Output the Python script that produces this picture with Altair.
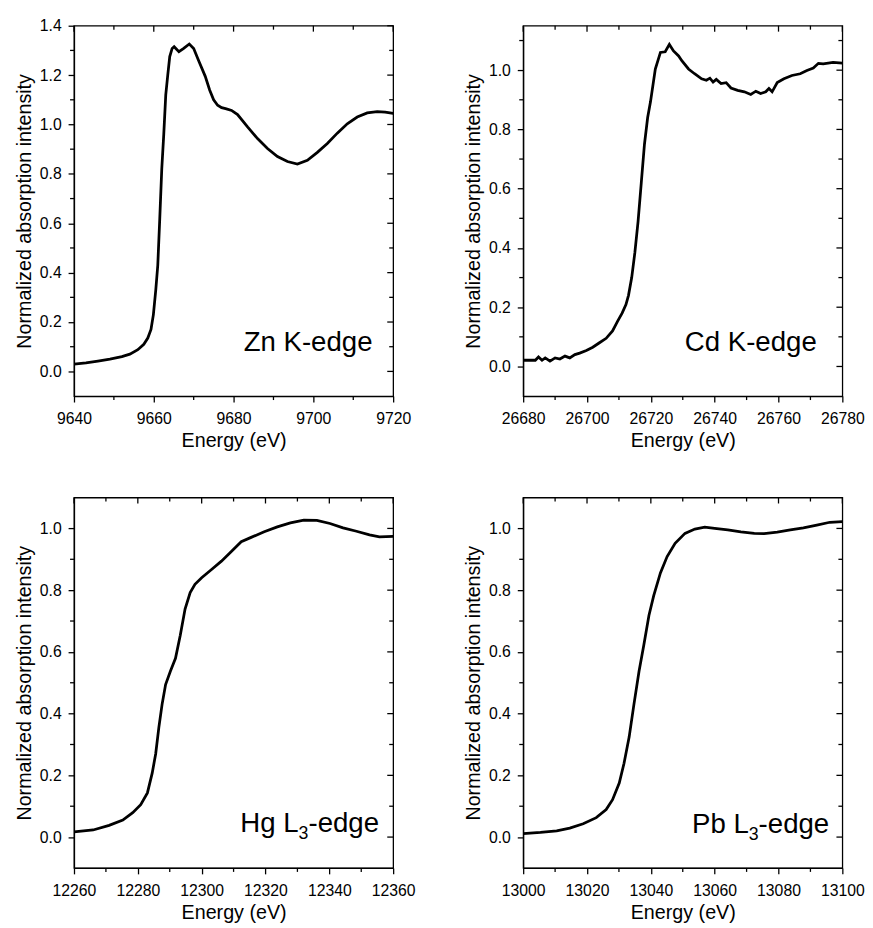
import altair as alt
import pandas as pd

# ---------------- data ----------------
zn_E = [9640, 9643, 9646, 9649, 9652, 9654, 9656, 9657.5, 9658.5, 9659.3, 9659.9,
        9660.5, 9661, 9661.5, 9662, 9662.5, 9663, 9663.5, 9664, 9664.6, 9665.1,
        9666.3, 9667.5, 9668.9, 9670, 9671.2, 9672.9, 9674, 9675,
        9676, 9677, 9678, 9679.5, 9681, 9683.5, 9686, 9688.5, 9691, 9693.5, 9696,
        9698.5, 9701, 9703.5, 9706, 9708.5, 9711, 9713.5, 9716, 9718, 9720]
zn_V = [0.030, 0.035, 0.042, 0.050, 0.060, 0.070, 0.088, 0.110, 0.135, 0.170, 0.230,
        0.330, 0.430, 0.620, 0.820, 0.960, 1.120, 1.200, 1.275, 1.308, 1.315,
        1.295, 1.308, 1.326, 1.308, 1.260, 1.195, 1.140, 1.100,
        1.078, 1.068, 1.064, 1.057, 1.040, 0.990, 0.943, 0.903, 0.870, 0.850, 0.840,
        0.855, 0.887, 0.923, 0.965, 1.003, 1.030, 1.047, 1.052, 1.050, 1.045]

cd_E = [26680, 26682, 26683.8, 26684.8, 26685.9, 26686.9, 26688.4, 26690, 26691.5,
        26693.1, 26694.6, 26696.2, 26697.7, 26699.8, 26701.8, 26703.9, 26706, 26708,
        26709.6, 26711, 26712.2, 26713, 26714, 26715, 26716, 26717, 26718, 26719,
        26719.9, 26721.4, 26723, 26724.5, 26725.8, 26727.1, 26728.7, 26729.7, 26731.8,
        26733.7, 26735.9, 26737.4, 26738.5, 26739.5, 26740.5, 26742, 26743.6, 26745.1,
        26747.2, 26749.3, 26751.3, 26752.9, 26754.4, 26756, 26757, 26758, 26759.6,
        26761.7, 26764.2, 26766.8, 26768.9, 26770.9, 26772.5, 26774, 26777.1, 26780]
cd_V = [0.021, 0.021, 0.021, 0.032, 0.021, 0.029, 0.018, 0.029, 0.025,
        0.035, 0.029, 0.040, 0.045, 0.054, 0.065, 0.080, 0.095, 0.120,
        0.153, 0.180, 0.209, 0.240, 0.300, 0.385, 0.490, 0.620, 0.750, 0.840,
        0.894, 1.004, 1.060, 1.062, 1.087, 1.065, 1.048, 1.032, 1.004,
        0.988, 0.971, 0.966, 0.973, 0.960, 0.969, 0.955, 0.958, 0.940,
        0.932, 0.927, 0.918, 0.929, 0.921, 0.927, 0.938, 0.927, 0.958,
        0.971, 0.982, 0.988, 0.999, 1.007, 1.023, 1.021, 1.026, 1.024]

hg_E = [12260, 12266, 12271, 12275.3, 12278.4, 12280.9, 12283, 12284.5, 12285.6,
        12286.6, 12287.6, 12288.7, 12290.2, 12291.8, 12293.3, 12294.8, 12296.4,
        12297.9, 12300, 12303.1, 12306.2, 12309.3, 12312.4, 12315.5, 12319.6,
        12323.7, 12327.8, 12332, 12336.1, 12340.2, 12344.3, 12348.5, 12352.6,
        12355.7, 12360]
hg_V = [0.017, 0.023, 0.038, 0.055, 0.079, 0.105, 0.143, 0.207, 0.270,
        0.356, 0.430, 0.494, 0.537, 0.579, 0.654, 0.739, 0.792,
        0.819, 0.840, 0.867, 0.894, 0.925, 0.957, 0.971, 0.989,
        1.005, 1.018, 1.027, 1.026, 1.016, 1.002, 0.991, 0.979,
        0.973, 0.974]

pb_E = [13000, 13005.4, 13010.5, 13014.6, 13018.8, 13022.9, 13026, 13028, 13030.1,
        13031.6, 13033.2, 13034.7, 13036.3, 13037.8, 13039.4, 13040.9, 13043,
        13045.1, 13047.6, 13050.7, 13053.8, 13056.9, 13060, 13064.1, 13068.2,
        13072.4, 13075.5, 13079.6, 13083.7, 13087.8, 13092, 13096.1, 13100]
pb_V = [0.011, 0.015, 0.020, 0.029, 0.043, 0.063, 0.089, 0.121, 0.175,
        0.239, 0.324, 0.430, 0.537, 0.622, 0.718, 0.782, 0.856,
        0.909, 0.952, 0.984, 0.998, 1.004, 1.000, 0.995, 0.989,
        0.984, 0.983, 0.988, 0.995, 1.002, 1.011, 1.020, 1.022]

# axis domains and tick values
zn_xdom, zn_ydom = [9640, 9720], [-0.1, 1.4]
cd_xdom, cd_ydom = [26680, 26780], [-0.1, 1.15]
hg_xdom, hg_ydom = [12260, 12360], [-0.1, 1.1]
pb_xdom, pb_ydom = [13000, 13100], [-0.1, 1.1]

zn_xmaj = [9640, 9660, 9680, 9700, 9720]
zn_xmin = [9650, 9670, 9690, 9710]
cd_xmaj = [26680, 26700, 26720, 26740, 26760, 26780]
cd_xmin = [26690, 26710, 26730, 26750, 26770]
hg_xmaj = [12260, 12280, 12300, 12320, 12340, 12360]
hg_xmin = [12270, 12290, 12310, 12330, 12350]
pb_xmaj = [13000, 13020, 13040, 13060, 13080, 13100]
pb_xmin = [13010, 13030, 13050, 13070, 13090]

zn_ymaj = [0.0, 0.2, 0.4, 0.6, 0.8, 1.0, 1.2, 1.4]
zn_ymin = [0.1, 0.3, 0.5, 0.7, 0.9, 1.1, 1.3]
cd_ymaj = [0.0, 0.2, 0.4, 0.6, 0.8, 1.0]
cd_ymin = [0.1, 0.3, 0.5, 0.7, 0.9, 1.1]
l3_ymaj = [0.0, 0.2, 0.4, 0.6, 0.8, 1.0]
l3_ymin = [0.1, 0.3, 0.5, 0.7, 0.9]

# ---------------- styling ----------------
W, H = 324, 376
FONT = "Liberation Sans"
MAJ, MIN = 6, 4


def tick_layers(X, Y, xmaj, xmin, ymaj, ymin):
    layers = []
    for vals, ln in ((xmaj, MAJ), (xmin, MIN)):
        d = pd.DataFrame({"E": vals})
        # top, inward
        layers.append(alt.Chart(d).mark_rule(color="black", strokeWidth=1.3).encode(
            x=X, y=alt.value(0), y2=alt.value(ln)))
    # bottom minor, outward
    layers.append(alt.Chart(pd.DataFrame({"E": xmin})).mark_rule(color="black", strokeWidth=1.3).encode(
        x=X, y=alt.value(H), y2=alt.value(H + MIN)))
    for vals, ln in ((ymaj, MAJ), (ymin, MIN)):
        d = pd.DataFrame({"V": vals})
        # right, inward
        layers.append(alt.Chart(d).mark_rule(color="black", strokeWidth=1.3).encode(
            y=Y, x=alt.value(W - ln), x2=alt.value(W)))
    # left minor, outward
    layers.append(alt.Chart(pd.DataFrame({"V": ymin})).mark_rule(color="black", strokeWidth=1.3).encode(
        y=Y, x=alt.value(-MIN), x2=alt.value(0)))
    return layers


def text_layer(s, x, y, size, align):
    return alt.Chart(pd.DataFrame({"s": [s]})).mark_text(
        font=FONT, fontSize=size, color="black", align=align, baseline="alphabetic"
    ).encode(text="s:N", x=alt.value(x), y=alt.value(y))


def panel(E, V, xdom, ydom, xmaj, xmin, ymaj, ymin, texts):
    X = alt.X("E:Q", scale=alt.Scale(domain=xdom, nice=False, zero=False),
              axis=alt.Axis(values=xmaj, format="d", title="Energy (eV)",
                            labelPadding=9, titlePadding=4))
    Y = alt.Y("V:Q", scale=alt.Scale(domain=ydom, nice=False, zero=False),
              axis=alt.Axis(values=ymaj, format=".1f",
                            title="Normalized absorption intensity",
                            labelPadding=7, titlePadding=5))
    df = pd.DataFrame({"E": E, "V": V})
    line = alt.Chart(df).mark_line(color="black", strokeWidth=2.8, clip=True).encode(x=X, y=Y)
    layers = [line] + tick_layers(X, Y, xmaj, xmin, ymaj, ymin) + texts
    return alt.layer(*layers).properties(width=W, height=H)


p1 = panel(zn_E, zn_V, zn_xdom, zn_ydom, zn_xmaj, zn_xmin, zn_ymaj, zn_ymin,
           [text_layer("Zn K-edge", 303, 330, 28, "right")])
p2 = panel(cd_E, cd_V, cd_xdom, cd_ydom, cd_xmaj, cd_xmin, cd_ymaj, cd_ymin,
           [text_layer("Cd K-edge", 298, 330, 28, "right")])
p3 = panel(hg_E, hg_V, hg_xdom, hg_ydom, hg_xmaj, hg_xmin, l3_ymaj, l3_ymin,
           [text_layer("Hg L", 228, 340, 28, "right"),
            text_layer("3", 228, 347, 18, "left"),
            text_layer("-edge", 238, 340, 28, "left")])
p4 = panel(pb_E, pb_V, pb_xdom, pb_ydom, pb_xmaj, pb_xmin, l3_ymaj, l3_ymin,
           [text_layer("Pb L", 229, 341, 28, "right"),
            text_layer("3", 229, 348, 18, "left"),
            text_layer("-edge", 239, 341, 28, "left")])

chart = alt.concat(p1, p2, p3, p4, columns=2, spacing={"row": 45, "column": 48}).properties(
    padding={"left": 6, "top": 2, "right": 0, "bottom": 0}
).configure_view(stroke="black", strokeWidth=1.3).configure_axis(
    domainColor="black", domainWidth=1.3, tickColor="black", tickWidth=1.3, tickSize=MAJ,
    labelFont=FONT, labelFontSize=16, labelColor="black", labelFlush=False,
    titleFont=FONT, titleFontSize=20, titleFontWeight="normal", titleColor="black",
    grid=False
)

chart.save("out.html", embed_options={"renderer": "svg", "actions": False})
